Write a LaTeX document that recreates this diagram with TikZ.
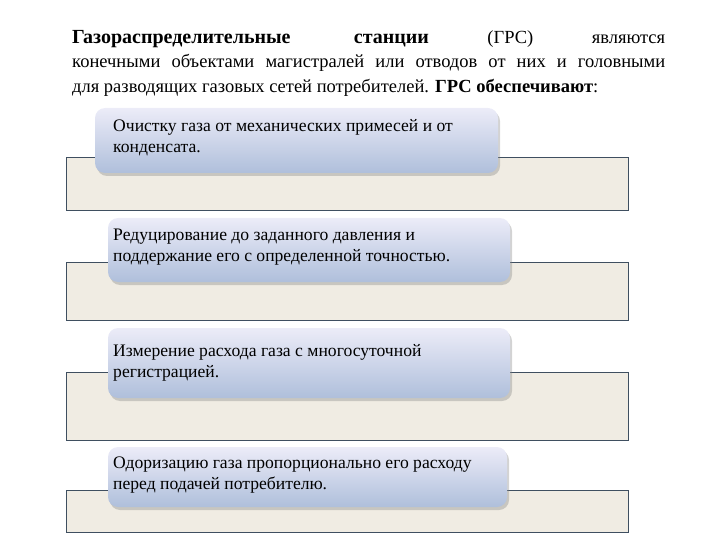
\documentclass[tikz,border=0pt]{standalone}
\usepackage{fontspec}
\setmainfont{Liberation Serif}
\usetikzlibrary{shadows}
\definecolor{rfill}{HTML}{F0ECE3}
\definecolor{rdraw}{HTML}{3F4F60}
\definecolor{btop}{HTML}{ECECF8}
\definecolor{bbot}{HTML}{AFBFDB}
\tikzset{
  band/.style={draw=rdraw, fill=rfill, line width=0.8pt},
  item/.style={rounded corners=10pt, top color=btop, bottom color=bbot, draw=none,
    drop shadow={shadow xshift=2pt, shadow yshift=-3pt, opacity=0.35}},
  itemtxt/.style={anchor=north west, align=left, inner sep=0pt,
    font=\fontsize{17.6}{21}\selectfont}
}
\begin{document}
\begin{tikzpicture}[x=1pt,y=-1pt]
\useasboundingbox (0,0) rectangle (720,540);
\node[anchor=north west, inner sep=0pt, text width=593pt, align=justify,
  font=\fontsize{18.5}{24.5}\selectfont] (title) at (72,30)
 {\textbf{\fontsize{20}{24.5}\selectfont Газораспределительные станции} (ГРС) являются\linebreak конечными объектами магистралей или отводов от них и головными\linebreak для разводящих газовых сетей потребителей. \textbf{ГРС обеспечивают}:};
% group 1
\draw[band] (66,157) rectangle (628,210);
\path[item] (95,108) rectangle (498,173);
\node[itemtxt] (t1) at (113,119) {Очистку газа от механических примесей и от\\конденсата.};
% group 2
\draw[band] (66,262) rectangle (628,320);
\path[item] (108,218) rectangle (510,282);
\node[itemtxt] (t2) at (113,229) {Редуцирование до заданного давления и\\поддержание его с определенной точностью.};
% group 3
\draw[band] (66,372) rectangle (628,440);
\path[item] (108,328) rectangle (510,398);
\node[itemtxt] (t3) at (113,344) {Измерение расхода газа с многосуточной\\регистрацией.};
% group 4
\draw[band] (66,490) rectangle (628,532);
\path[item] (108,447) rectangle (507,507);
\node[itemtxt] (t4) at (113,457) {Одоризацию газа пропорционально его расходу\\перед подачей потребителю.};
\end{tikzpicture}
\end{document}
